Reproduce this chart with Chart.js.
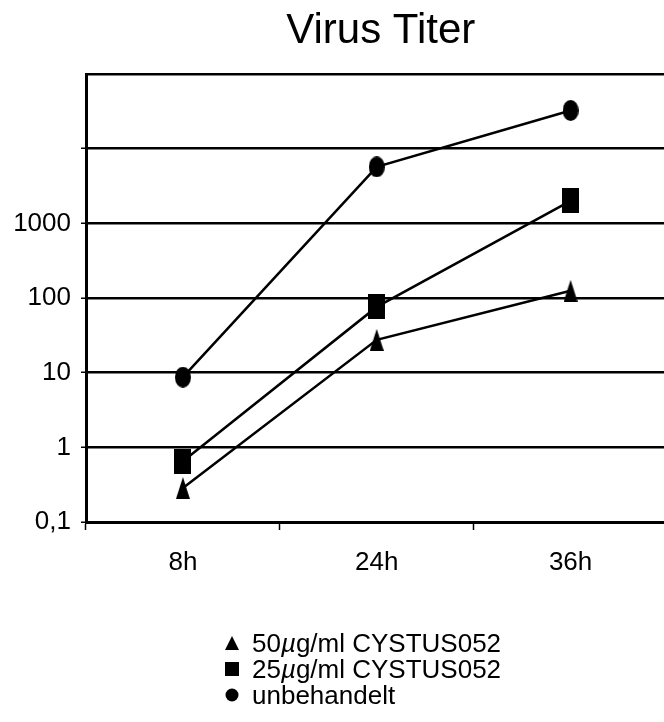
<!DOCTYPE html>
<html>
<head>
<meta charset="utf-8">
<script src="https://cdn.jsdelivr.net/npm/chart.js@4/dist/chart.umd.min.js"></script>
<style>
  html, body { margin: 0; padding: 0; background: #fff; overflow: hidden; }
  #chart { display: block; }
</style>
</head>
<body>
<canvas id="chart" width="680" height="722"></canvas>
<script>
const timepoints = ['8h', '24h', '36h'];
const seriesNames = ['50\u00b5g/ml CYSTUS052', '25\u00b5g/ml CYSTUS052', 'unbehandelt'];
const titer50 = [0.285, 27.5, 125];
const titer25 = [0.65, 76, 2000];
const untreated = [8.7, 5700, 32500];
const yTicks = [0.1, 1, 10, 100, 1000, 10000, 100000];
const yLabels = ['0,1', '1', '10', '100', '1000', '', ''];

const FONT = '"Liberation Sans", Arial, Helvetica, sans-serif';

function drawShape(g, shape, cx, cy, w, h) {
    g.beginPath();
    if (shape === 'triangle') {
        g.moveTo(cx, cy - h / 2);
        g.lineTo(cx + w / 2, cy + h / 2);
        g.lineTo(cx - w / 2, cy + h / 2);
        g.closePath();
    } else if (shape === 'rect') {
        g.rect(cx - w / 2, cy - h / 2, w, h);
    } else {
        g.ellipse(cx, cy, w / 2, h / 2, 0, 0, Math.PI * 2);
    }
    g.fill();
}

function makeMarker(shape, w, h) {
    const c = document.createElement('canvas');
    c.width = w;
    c.height = h;
    const g = c.getContext('2d');
    g.fillStyle = '#000';
    drawShape(g, shape, w / 2, h / 2, w, h);
    return c;
}

const shapes = ['triangle', 'rect', 'circle'];
const markers = [
    makeMarker('triangle', 14, 22),
    makeMarker('rect', 17, 25),
    makeMarker('circle', 16, 21)
];

// text with the micro sign set in italics, like the original
function drawLabel(g, text, x, y) {
    const parts = text.split('\u00b5');
    let cx = x;
    parts.forEach((p, k) => {
        if (k > 0) {
            g.font = 'italic 26px ' + FONT;
            g.fillText('\u00b5', cx, y);
            cx += g.measureText('\u00b5').width;
        }
        g.font = '26px ' + FONT;
        g.fillText(p, cx, y);
        cx += g.measureText(p).width;
    });
}

const titlePlugin = {
    id: 'titleAndLegend',
    afterDraw(chart) {
        const g = chart.ctx;
        const area = chart.chartArea;
        g.save();
        g.fillStyle = '#000';
        g.font = '42px ' + FONT;
        g.textAlign = 'center';
        g.textBaseline = 'alphabetic';
        g.fillText('Virus Titer', (area.left + area.right) / 2 + 4, 43);

        // legend, stacked vertically
        g.textAlign = 'left';
        const sizes = [[14, 14], [14, 14], [13, 13]];
        chart.data.datasets.forEach((ds, i) => {
            const base = 652 + 26 * i;
            drawShape(g, shapes[i], 232, base - 9, sizes[i][0], sizes[i][1]);
            drawLabel(g, ds.label, 252, base);
        });
        g.restore();
    }
};

const ctx = document.getElementById('chart').getContext('2d');

const datasets = [titer50, titer25, untreated].map((values, i) => ({
    label: seriesNames[i],
    data: values,
    borderColor: '#000',
    backgroundColor: '#000',
    borderWidth: 2.5,
    pointStyle: markers[i],
    pointRadius: 10,
    tension: 0
}));

new Chart(ctx, {
    type: 'line',
    data: { labels: timepoints, datasets: datasets },
    options: {
        responsive: false,
        animation: false,
        events: [],
        layout: { padding: { top: 74, left: 0, right: 6, bottom: 140 } },
        plugins: {
            legend: { display: false },
            title: { display: false },
            tooltip: { enabled: false }
        },
        scales: {
            x: {
                type: 'category',
                offset: true,
                afterFit(scale) { scale.height = 60; },
                grid: {
                    offset: true,
                    drawOnChartArea: false,
                    drawTicks: true,
                    tickLength: 8,
                    tickWidth: 1.5,
                    tickColor: '#000'
                },
                border: { display: true, color: '#000', width: 3 },
                ticks: {
                    color: '#000',
                    font: { family: FONT, size: 26 },
                    padding: 17,
                    maxRotation: 0
                }
            },
            y: {
                type: 'logarithmic',
                min: 0.1,
                max: 100000,
                afterFit(scale) { scale.width = 86; },
                afterBuildTicks(scale) {
                    scale.ticks = yTicks.map(v => ({ value: v }));
                },
                grid: {
                    color: '#000',
                    lineWidth: 2.5,
                    drawTicks: true,
                    tickLength: 5,
                    tickWidth: 1.5,
                    tickColor: c => (c.tick && c.tick.value === 100000) ? 'rgba(0,0,0,0)' : '#000'
                },
                border: { display: true, color: '#000', width: 3 },
                ticks: {
                    color: '#000',
                    font: { family: FONT, size: 26 },
                    padding: 10,
                    autoSkip: false,
                    callback: (value) => {
                        const idx = yTicks.indexOf(value);
                        return idx >= 0 ? yLabels[idx] : '';
                    }
                }
            }
        }
    },
    plugins: [titlePlugin]
});
</script>
</body>
</html>
